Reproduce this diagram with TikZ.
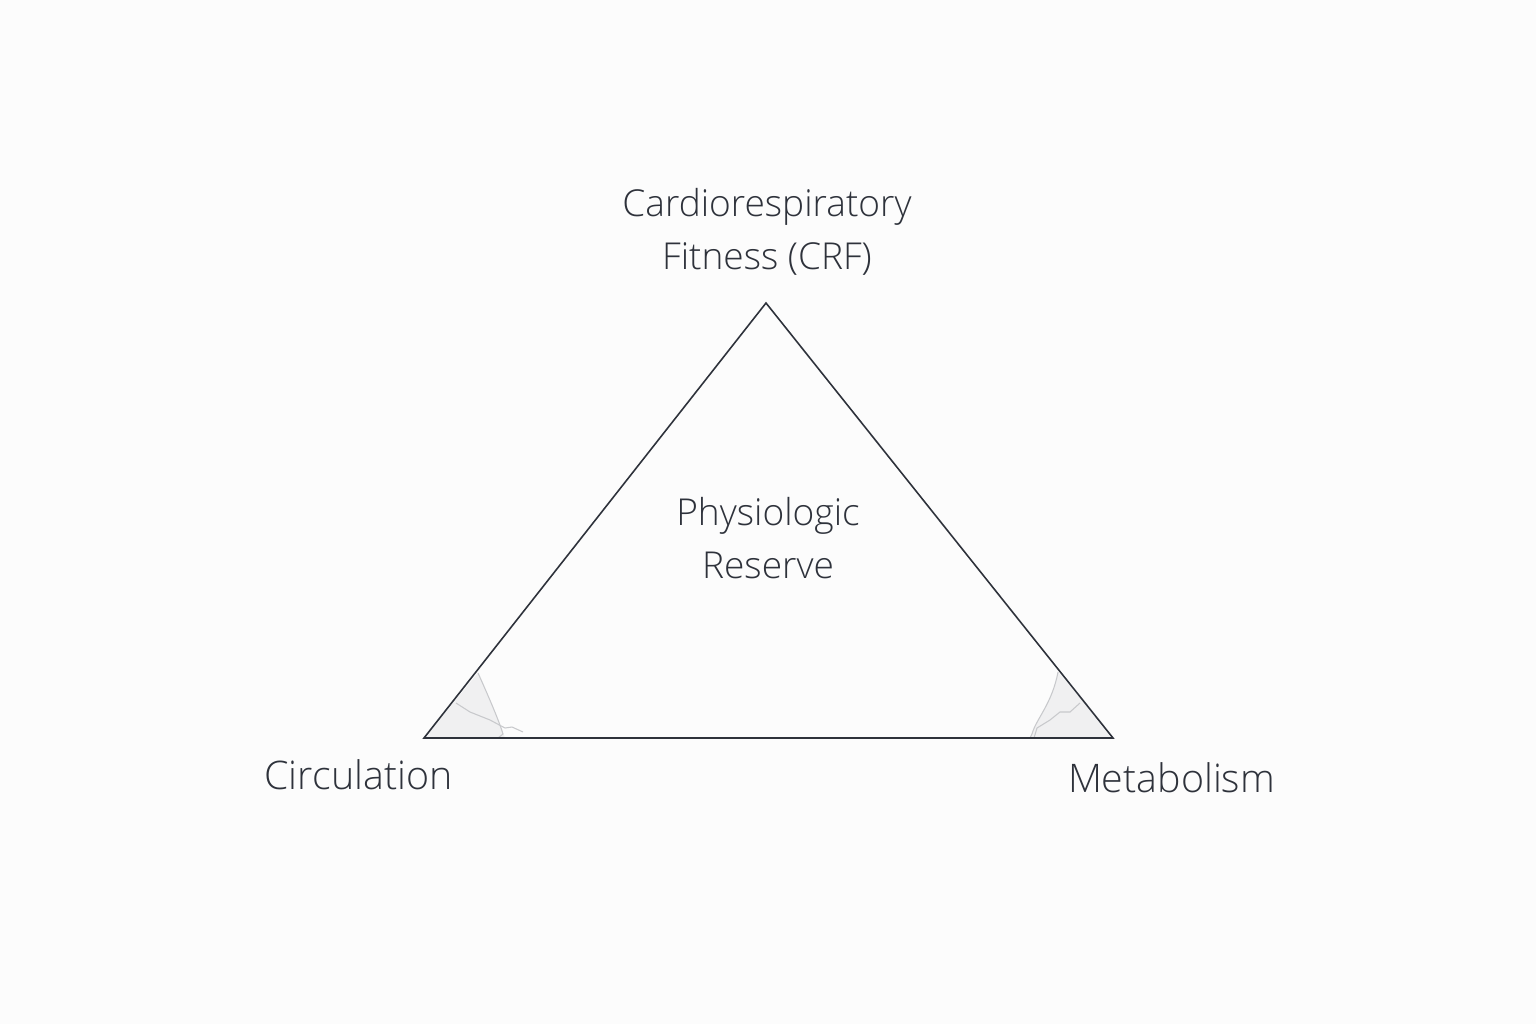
\documentclass[tikz,border=0pt]{standalone}
\usepackage{fontspec}
\setmainfont{Open Sans Light}
\usetikzlibrary{positioning}
\definecolor{inkc}{HTML}{2E323B}
\definecolor{paperc}{HTML}{FCFCFC}
\definecolor{shadec}{HTML}{F0F0F1}
\definecolor{crackc}{HTML}{C8C9CC}
\tikzset{lbl/.style={text=inkc, align=center, font=\fontsize{10.55}{15}\selectfont},
    side/.style={draw=inkc, line width=0.45pt, line join=miter},
    crack/.style={draw=crackc, line width=0.3pt}}

\begin{document}
\begin{tikzpicture}
        \fill[paperc] (0,0) rectangle (15.36,10.24);
        \useasboundingbox (0,0) rectangle (15.36,10.24);
        % corners of the triangle
        \coordinate (top) at (7.66,7.21);
        \coordinate (left) at (4.24,2.86);
        \coordinate (right) at (11.13,2.86);
        % worn corners
        \fill[shadec] (left) -- (4.78,3.51) .. controls (4.92,3.20) and (5.00,3.00) .. (5.05,2.86) -- cycle;
        \draw[crack] (4.78,3.51) .. controls (4.92,3.20) and (5.00,3.00) .. (5.03,2.90) -- (4.98,2.86);
        \draw[crack] (4.56,3.21) -- (4.70,3.12) -- (4.90,3.04) -- (5.05,2.96) -- (5.12,2.97) -- (5.23,2.92);
        \fill[shadec] (right) -- (10.58,3.52) .. controls (10.52,3.20) and (10.36,3.05) .. (10.30,2.86) -- cycle;
        \draw[crack] (10.58,3.52) .. controls (10.52,3.20) and (10.36,3.05) .. (10.32,2.90) -- (10.30,2.86);
        \draw[crack] (10.80,3.21) -- (10.70,3.12) -- (10.60,3.12) -- (10.50,3.04) -- (10.37,2.96) -- (10.34,2.86);
        % the triangle
        \draw[side] (top) -- (left) -- (right) -- cycle;
        % labels
        \node[lbl] (crf) at (7.67,7.92) {Cardiorespiratory\\Fitness (CRF)};
        \node[lbl] (reserve) at (7.68,4.86) {Physiologic\\Reserve};
        \node[lbl, font=\fontsize{11.2}{15}\selectfont] (circ) at (3.585,2.49) {Circulation};
        \node[lbl, font=\fontsize{11.2}{15}\selectfont] (meta) at (11.715,2.46) {Metabolism};
    \end{tikzpicture}
\end{document}
